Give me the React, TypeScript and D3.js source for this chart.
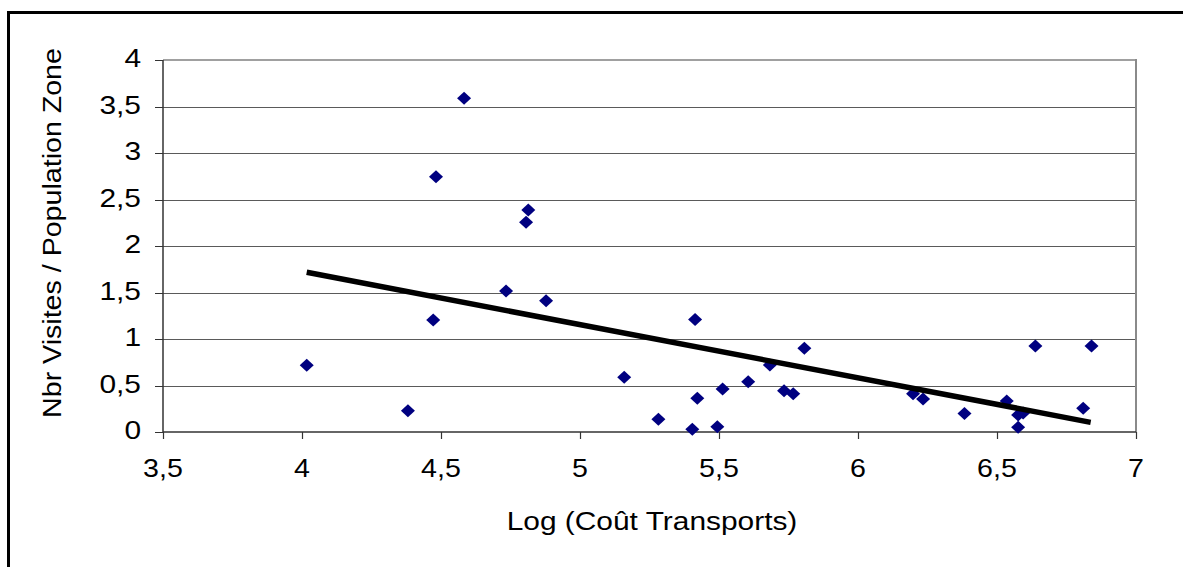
import React from "react";
import * as d3 from "d3";

const xValues = [4.017, 4.381, 4.472, 4.482, 4.583, 4.734, 4.806, 4.814, 4.878, 5.159, 5.282, 5.404, 5.414, 5.422, 5.494, 5.513, 5.605, 5.683, 5.734, 5.767, 5.807, 6.198, 6.234, 6.383, 6.535, 6.576, 6.594, 6.576, 6.638, 6.81, 6.84];
const yValues = [0.717, 0.229, 1.204, 2.745, 3.59, 1.516, 2.255, 2.387, 1.41, 0.59, 0.136, 0.03, 1.21, 0.362, 0.057, 0.462, 0.541, 0.72, 0.444, 0.41, 0.9, 0.41, 0.355, 0.2, 0.333, 0.183, 0.204, 0.05, 0.925, 0.255, 0.925];
const trendX = [4.017, 6.837];
const trendY = [1.717, 0.104];
const xTicks = [3.5, 4, 4.5, 5, 5.5, 6, 6.5, 7];
const yTicks = [0, 0.5, 1, 1.5, 2, 2.5, 3, 3.5, 4];
const xTitle = "Log (Coût Transports)";
const yTitle = "Nbr Visites / Population Zone";

const fmt = (v: number) => String(v).replace(".", ",");

export default function App() {
  const W = 1183, H = 567;
  const x = d3.scaleLinear().domain([3.5, 7]).range([163, 1136]);
  const y = d3.scaleLinear().domain([0, 4]).range([432, 60]);
  const font = "'Liberation Sans', Arial, sans-serif";
  const line = d3.line<[number, number]>().x(d => x(d[0])).y(d => y(d[1]));
  const trend: [number, number][] = trendX.map((v, i) => [v, trendY[i]]);
  const diamond = "M0,-6.5 L7,0 L0,6.5 L-7,0 Z";

  return (
    <svg width={W} height={H} style={{ position: "absolute", left: 0, top: 0, background: "#fff" }}>
      <rect x={0} y={0} width={W} height={H} fill="#fff" />
      {/* outer border */}
      <path d="M8.5,600 V12.5 H1200" fill="none" stroke="#000" strokeWidth={3} />
      {/* gridlines */}
      {yTicks.filter(t => t > 0 && t < 4).map(t => (
        <line key={t} x1={x(3.5)} x2={x(7)} y1={Math.round(y(t)) + 0.5} y2={Math.round(y(t)) + 0.5} stroke="#5a5a5a" strokeWidth={1} />
      ))}
      <line x1={x(3.5)} x2={x(7)} y1={y(4)} y2={y(4)} stroke="#a0a0a0" strokeWidth={2} />
      <line x1={x(7)} x2={x(7)} y1={y(4) - 1} y2={y(0)} stroke="#8a8a8a" strokeWidth={2} />
      {/* axes */}
      <line x1={x(3.5)} x2={x(3.5)} y1={y(4)} y2={y(0)} stroke="#333" strokeWidth={1.5} />
      <line x1={x(3.5)} x2={x(7)} y1={y(0)} y2={y(0)} stroke="#333" strokeWidth={1.5} />
      {yTicks.map(t => (
        <line key={"yt" + t} x1={155} x2={x(3.5)} y1={Math.round(y(t)) + 0.5} y2={Math.round(y(t)) + 0.5} stroke="#333" strokeWidth={1} />
      ))}
      {xTicks.map(t => (
        <line key={"xt" + t} x1={Math.round(x(t)) + 0.5} x2={Math.round(x(t)) + 0.5} y1={y(0)} y2={y(0) + 7} stroke="#333" strokeWidth={1.2} />
      ))}
      {/* tick labels */}
      {yTicks.map(t => (
        <text key={"yl" + t} transform={`translate(141,${y(t) + 7}) scale(1.15,1)`} textAnchor="end" fontFamily={font} fontSize={26} fill="#000">
          {fmt(t)}
        </text>
      ))}
      {xTicks.map(t => (
        <text key={"xl" + t} transform={`translate(${x(t)},${477}) scale(1.1,1)`} textAnchor="middle" fontFamily={font} fontSize={26} fill="#000">
          {fmt(t)}
        </text>
      ))}
      {/* titles */}
      <text transform={`translate(652,530) scale(1.15,1)`} textAnchor="middle" fontFamily={font} fontSize={26} fill="#000">
        {xTitle}
      </text>
      <text transform={`translate(61,233) rotate(-90) scale(1.1,1)`} textAnchor="middle" fontFamily={font} fontSize={26} fill="#000">
        {yTitle}
      </text>
      {/* points */}
      {xValues.map((v, i) => (
        <path key={"p" + i} d={diamond} transform={`translate(${x(v)},${y(yValues[i])})`} fill="#000080" />
      ))}
      {/* trend line */}
      <path d={line(trend) || ""} fill="none" stroke="#000" strokeWidth={5.5} />
    </svg>
  );
}
